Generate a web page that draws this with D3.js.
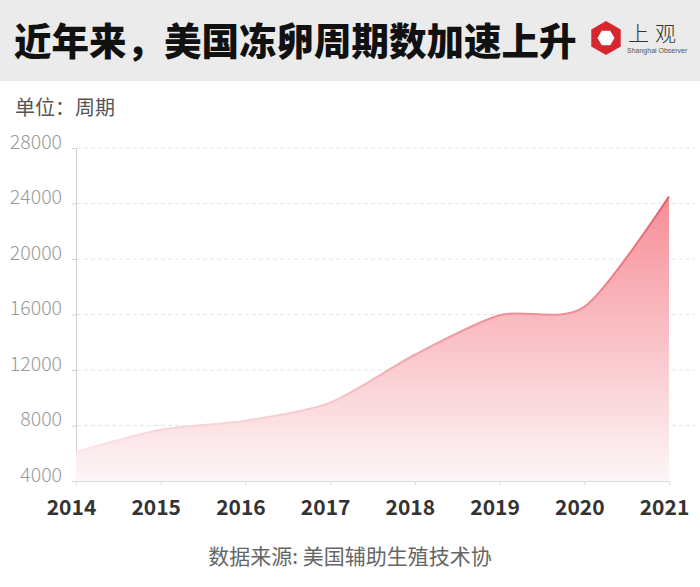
<!DOCTYPE html>
<html><head><meta charset="utf-8">
<script src="https://cdn.jsdelivr.net/npm/d3@7/dist/d3.min.js"></script>
<style>
html,body{margin:0;padding:0;background:#fff;}
svg{display:block;}
</style></head>
<body>
<svg id="chart" width="700" height="587"></svg>
<script>
const years = [2014, 2015, 2016, 2017, 2018, 2019, 2020, 2021];
const cycles = [6090, 7700, 8350, 9650, 13100, 15950, 16550, 24500];
const yTicks = [4000, 8000, 12000, 16000, 20000, 24000, 28000];
const title = "近年来，美国冻卵周期数加速上升";
const unitLabel = "单位：周期";
const sourceLabel = "数据来源: 美国辅助生殖技术协";

const svg = d3.select("#chart");
const cjk = "'Noto Sans CJK SC', 'Noto Sans', sans-serif";

// header band
svg.append("rect").attr("x",0).attr("y",0).attr("width",700).attr("height",81).attr("fill","#ebebeb");
svg.append("text").attr("x",14).attr("y",55).attr("font-family",cjk).attr("font-weight",900)
  .attr("font-size",37.5).attr("fill","#111").text(title);

// logo
const logo = svg.append("g").attr("transform","translate(606,38)");
const hex = (r, rot) => d3.range(6).map(i => {const a = rot + i*Math.PI/3; return [r*Math.cos(a), r*Math.sin(a)];});
logo.append("polygon").attr("points", hex(17, Math.PI/6).join(" ")).attr("fill","#d7262e");
logo.append("polygon").attr("points", hex(8.5, 0).join(" ")).attr("fill","#fff");
svg.append("text").attr("x",628).attr("y",41).attr("font-family",cjk).attr("font-size",21).attr("font-weight",300)
  .attr("fill","#333").attr("letter-spacing",6).text("上观");
svg.append("text").attr("x",627).attr("y",53).attr("font-family","'Liberation Sans', Arial, sans-serif")
  .attr("font-size",7).attr("fill","#555").text("Shanghai Observer");

svg.append("text").attr("x",15).attr("y",115).attr("font-family",cjk).attr("font-size",20)
  .attr("fill","#555").text(unitLabel);

const x = d3.scaleLinear().domain([2014, 2021]).range([76, 669]);
const y = d3.scaleLinear().domain([4000, 28000]).range([481, 148]);

// grid
const grid = svg.append("g");
grid.selectAll("line").data(yTicks.slice(1)).join("line")
  .attr("x1",77).attr("x2",695).attr("y1",d=>y(d)).attr("y2",d=>y(d))
  .attr("stroke","#e3e3e3").attr("stroke-width",1).attr("stroke-dasharray","4,3");

// y axis
const yAxis = svg.append("g").attr("transform","translate(76,0)")
  .call(d3.axisLeft(y).tickValues(yTicks).tickSize(4).tickPadding(10).tickFormat(d3.format("d")));
yAxis.select(".domain").attr("stroke","#cfcfcf");
yAxis.selectAll(".tick line").attr("stroke","#cfcfcf");
yAxis.selectAll("text").attr("font-family",cjk).attr("font-size",19.5).attr("font-weight",300).attr("fill","#9a9a9a")
  .attr("y",-6);

// gradients
const defs = svg.append("defs");
const grad = defs.append("linearGradient").attr("id","fillGrad").attr("gradientUnits","userSpaceOnUse")
  .attr("x1",0).attr("x2",0).attr("y1",y(24500)).attr("y2",y(4000));
grad.append("stop").attr("offset","0%").attr("stop-color","#f78d97");
grad.append("stop").attr("offset","45%").attr("stop-color","#f9bcc2");
grad.append("stop").attr("offset","100%").attr("stop-color","#fdf6f7");
const sgrad = defs.append("linearGradient").attr("id","strokeGrad").attr("gradientUnits","userSpaceOnUse")
  .attr("x1",0).attr("x2",0).attr("y1",y(24500)).attr("y2",y(6000));
sgrad.append("stop").attr("offset","0%").attr("stop-color","#e55a69");
sgrad.append("stop").attr("offset","55%").attr("stop-color","#f09aa3");
sgrad.append("stop").attr("offset","100%").attr("stop-color","#fbe6e8");

const data = years.map((yr,i)=>({yr, v:cycles[i]}));
const curve = d3.curveCardinal.tension(0.2);
const area = d3.area().x(d=>x(d.yr)).y0(y(4000)).y1(d=>y(d.v)).curve(curve);
const line = d3.line().x(d=>x(d.yr)).y(d=>y(d.v)).curve(curve);
svg.append("path").datum(data).attr("d",area).attr("fill","url(#fillGrad)");
svg.append("path").datum(data).attr("d",line).attr("fill","none").attr("stroke","url(#strokeGrad)").attr("stroke-width",2);

// x axis
const xAxis = svg.append("g").attr("transform","translate(0,481)")
  .call(d3.axisBottom(x).tickValues(years).tickSize(4).tickPadding(15).tickFormat(d3.format("d")));
xAxis.select(".domain").attr("stroke","#dcdcdc");
xAxis.selectAll(".tick line").attr("stroke","#dcdcdc");
xAxis.selectAll("text").attr("font-family",cjk).attr("font-size",21).attr("font-weight",700)
  .attr("fill","#333").attr("dx",-5);

svg.append("text").attr("x",350).attr("y",564).attr("text-anchor","middle").attr("font-family",cjk)
  .attr("font-size",21).attr("fill","#666").text(sourceLabel);
</script>
</body></html>
